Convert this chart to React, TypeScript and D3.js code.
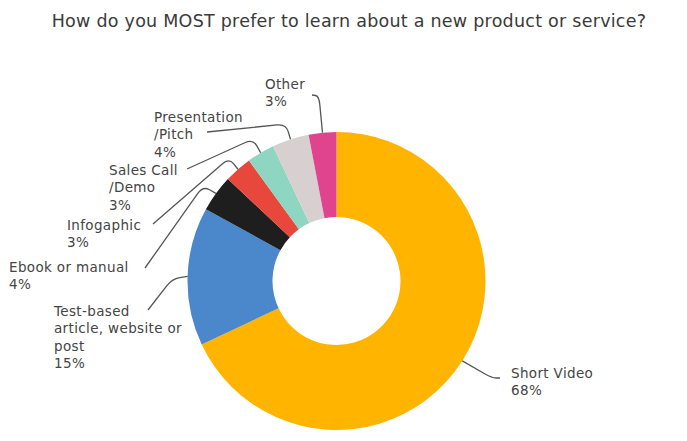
import React from "react";
import * as d3 from "d3";

const categories = [
  "Short Video",
  "Test-based article, website or post",
  "Ebook or manual",
  "Infogaphic",
  "Sales Call /Demo",
  "Presentation /Pitch",
  "Other",
];
const values = [68, 15, 4, 3, 3, 4, 3];
const colors = ["#FFB400", "#4A87CB", "#1E1E1E", "#E8483C", "#8ED6C1", "#D8CFD0", "#E0448E"];
const labelLines = [
  ["Short Video", "68%"],
  ["Test-based", "article, website or", "post", "15%"],
  ["Ebook or manual", "4%"],
  ["Infogaphic", "3%"],
  ["Sales Call", "/Demo", "3%"],
  ["Presentation", "/Pitch", "4%"],
  ["Other", "3%"],
];
const title = "How do you MOST prefer to learn about a new product or service?";

// layout: label anchor (x, first baseline) and leader elbow / end points
const labelLayout = [
  { x: 511, y: 378, elbow: [492, 378], end: [500, 378] },
  { x: 54, y: 316, elbow: [172, 279], end: [148, 310] },
  { x: 9, y: 272, elbow: [203, 186], end: [145, 268] },
  { x: 67, y: 230, elbow: [229, 158], end: [153, 224] },
  { x: 109, y: 175, elbow: [253, 139], end: [187, 169] },
  { x: 154, y: 122, elbow: [286, 124], end: [207, 132] },
  { x: 265, y: 89, elbow: [319, 96], end: [312, 95] },
];

const W = 687;
const H = 441;
const cx = 336.5;
const cy = 281;
const R = 149;
const r0 = 64;

function roundedPath(p0: number[], p1: number[], p2: number[], rad: number) {
  const d1 = Math.hypot(p1[0] - p0[0], p1[1] - p0[1]);
  const d2 = Math.hypot(p2[0] - p1[0], p2[1] - p1[1]);
  const a = Math.min(rad, d1 / 2);
  const b = Math.min(rad, d2 / 2);
  const q1 = [p1[0] - ((p1[0] - p0[0]) / d1) * a, p1[1] - ((p1[1] - p0[1]) / d1) * a];
  const q2 = [p1[0] + ((p2[0] - p1[0]) / d2) * b, p1[1] + ((p2[1] - p1[1]) / d2) * b];
  const p = d3.path();
  p.moveTo(p0[0], p0[1]);
  p.lineTo(q1[0], q1[1]);
  p.quadraticCurveTo(p1[0], p1[1], q2[0], q2[1]);
  p.lineTo(p2[0], p2[1]);
  return p.toString();
}

export default function App() {
  const data = categories.map((c, i) => ({ c, v: values[i], i }));
  const pie = d3.pie<any>().value((d) => d.v).sort(null);
  const arcs = pie(data);
  const arc = d3.arc<any>().innerRadius(r0).outerRadius(R);
  const font = "'DejaVu Sans', sans-serif";
  return (
    <svg width={W} height={H} style={{ position: "absolute", left: 0, top: 0, background: "#fff" }}>
      <text x={349} y={27} textAnchor="middle" fontFamily={font} fontSize={17.5} letterSpacing={0.25} fill="#3a3a3a">
        {title}
      </text>
      <g transform={`translate(${cx},${cy})`}>
        {arcs.map((a, i) => (
          <path key={i} d={arc(a) as string} fill={colors[i]} />
        ))}
      </g>
      {arcs.map((a, i) => {
        const mid = (a.startAngle + a.endAngle) / 2;
        const s = [cx + R * Math.sin(mid), cy - R * Math.cos(mid)];
        const L = labelLayout[i];
        return (
          <path key={"l" + i} d={roundedPath(s, L.elbow, L.end, 9)} fill="none" stroke="#555" strokeWidth={1.3} />
        );
      })}
      {labelLines.map((lines, i) => (
        <text key={"t" + i} fontFamily={font} fontSize={13.5} letterSpacing={0.35} fill="#444">
          {lines.map((ln, j) => (
            <tspan key={j} x={labelLayout[i].x} y={labelLayout[i].y + j * 17.3}>
              {ln}
            </tspan>
          ))}
        </text>
      ))}
    </svg>
  );
}
